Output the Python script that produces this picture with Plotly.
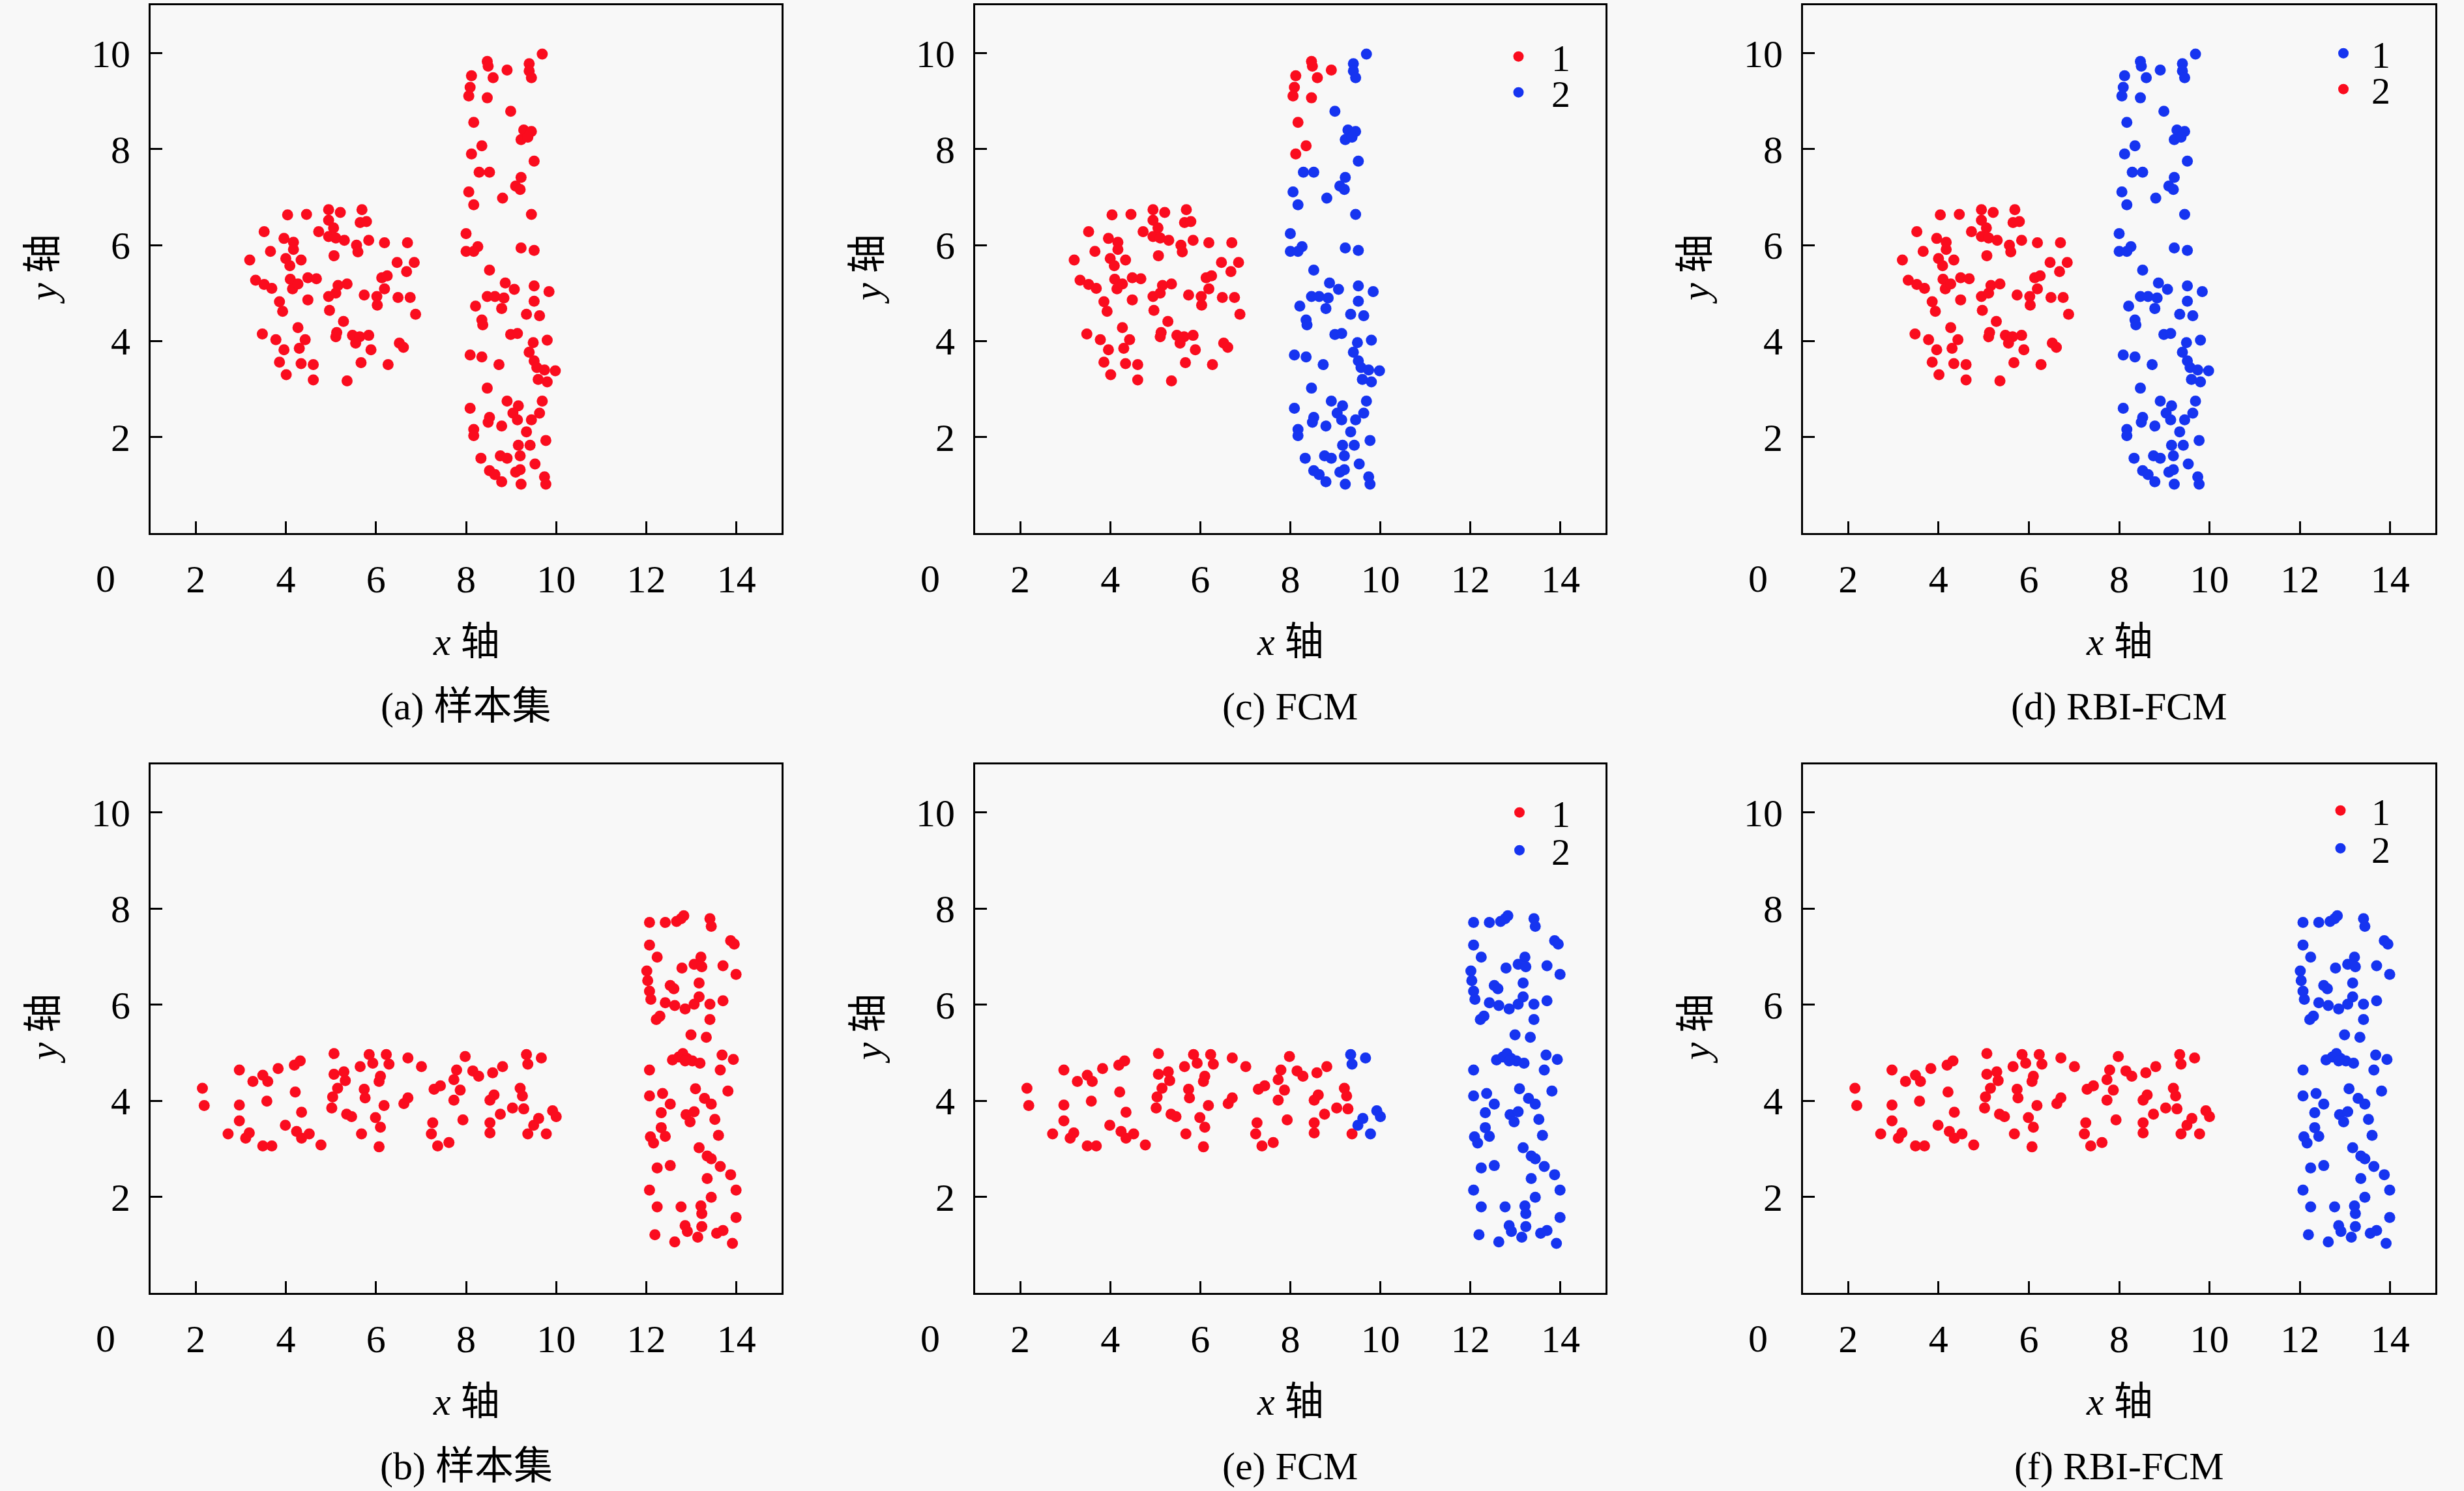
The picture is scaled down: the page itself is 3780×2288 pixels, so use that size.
import plotly.graph_objects as go

# ---- data set 1: round blob + tall column ----
blob1_x = [4.04, 4.46, 4.95, 5.21, 5.69, 4.95, 5.65, 5.79, 3.52, 4.73,
           5.06, 4.95, 5.11, 5.30, 3.96, 4.17, 4.17, 3.66, 5.07, 5.57,
           5.60, 5.84, 6.19, 6.70, 3.20, 4.00, 4.34, 4.09, 6.47, 6.85,
           6.68, 3.33, 3.52, 3.69, 4.10, 4.15, 4.27, 4.49, 4.68, 5.16,
           5.36, 4.95, 5.11, 6.13, 6.25, 6.19, 5.74, 6.02, 6.03, 6.49,
           6.76, 6.88, 4.49, 3.86, 3.93, 4.97, 5.28, 3.48, 3.78, 4.27,
           4.43, 3.96, 4.30, 3.86, 4.34, 4.61, 4.01, 4.61, 5.11, 5.13,
           5.48, 5.64, 5.84, 5.55, 5.89, 6.52, 6.61, 5.67, 6.27, 5.36]
blob1_y = [6.63, 6.64, 6.74, 6.68, 6.74, 6.52, 6.47, 6.49, 6.28, 6.28,
           6.36, 6.18, 6.15, 6.10, 6.14, 6.06, 5.91, 5.87, 5.78, 6.00,
           5.86, 6.10, 6.05, 6.05, 5.69, 5.72, 5.69, 5.57, 5.64, 5.64,
           5.45, 5.27, 5.18, 5.10, 5.29, 5.09, 5.19, 5.32, 5.30, 5.16,
           5.19, 4.93, 5.00, 5.32, 5.36, 5.09, 4.96, 4.93, 4.75, 4.91,
           4.91, 4.56, 4.86, 4.82, 4.62, 4.64, 4.41, 4.15, 4.03, 4.28,
           4.03, 3.82, 3.85, 3.56, 3.53, 3.51, 3.30, 3.19, 4.09, 4.18,
           4.12, 4.09, 4.12, 3.96, 3.82, 3.96, 3.87, 3.55, 3.51, 3.17]

# upper-left part of the column (FCM puts these with the blob)
col1_top_x = [8.47, 8.49, 8.91, 8.12, 8.60, 8.09, 8.06, 8.47, 8.17, 8.35, 8.12]
col1_top_y = [9.83, 9.73, 9.65, 9.53, 9.49, 9.29, 9.11, 9.07, 8.56, 8.07, 7.90]

col1_x = [9.69, 9.40, 9.40, 9.45, 8.99, 9.28, 9.45, 9.22, 9.37, 9.51,
          8.29, 8.52, 9.22, 9.10, 9.20, 8.06, 8.81, 8.17, 9.45, 8.00,
          8.00, 8.26, 8.17, 9.22, 9.51, 8.52, 8.87, 9.07, 9.51, 9.84,
          8.47, 8.64, 8.84, 8.21, 8.79, 9.34, 9.51, 9.63, 8.35, 8.37,
          8.99, 9.14, 9.80, 9.49, 9.40, 8.09, 8.35, 8.73, 9.51, 9.57,
          9.74, 9.98, 9.60, 9.80, 8.47, 9.69, 8.91, 9.16, 8.09, 9.04,
          9.63, 8.52, 8.49, 9.14, 9.45, 8.79, 8.17, 8.17, 9.34, 9.77,
          9.16, 9.42, 8.33, 8.76, 8.91, 9.20, 9.53, 8.52, 8.64, 8.79,
          9.10, 9.22, 9.74, 9.77, 9.20]
col1_y = [9.98, 9.78, 9.63, 9.49, 8.79, 8.40, 8.37, 8.20, 8.25, 7.75,
          7.52, 7.52, 7.41, 7.23, 7.16, 7.11, 6.98, 6.84, 6.64, 6.24,
          5.87, 5.97, 5.87, 5.94, 5.89, 5.48, 5.21, 5.08, 5.15, 5.03,
          4.93, 4.93, 4.90, 4.73, 4.68, 4.56, 4.83, 4.53, 4.44, 4.34,
          4.14, 4.16, 4.02, 3.97, 3.77, 3.71, 3.67, 3.51, 3.59, 3.45,
          3.40, 3.38, 3.20, 3.15, 3.02, 2.75, 2.75, 2.65, 2.60, 2.50,
          2.50, 2.41, 2.31, 2.36, 2.36, 2.23, 2.16, 2.03, 2.11, 1.93,
          1.83, 1.83, 1.56, 1.61, 1.56, 1.61, 1.44, 1.30, 1.22, 1.07,
          1.27, 1.02, 1.17, 1.02, 1.32]

# ---- data set 2: flat strip + column ----
strip2_x = [2.15, 2.19, 2.97, 2.97, 2.97, 2.72, 3.11, 3.19, 3.27, 3.49,
            3.60, 3.58, 3.49, 3.69, 3.83, 4.19, 4.32, 4.21, 4.35, 3.99,
            4.24, 4.35, 4.52, 4.78, 5.07, 5.07, 5.29, 5.32, 5.15, 5.04,
            5.02, 5.35, 5.46, 5.65, 5.85, 5.93, 6.23, 6.29, 6.07, 6.10,
            5.74, 5.76, 6.18, 5.68, 5.99, 6.10, 6.07, 6.71, 7.01, 6.62,
            6.71, 7.26, 7.23, 7.37, 7.62, 7.29, 7.43, 7.73, 7.87, 7.73,
            7.79, 7.98, 7.93, 8.15, 8.28, 8.59, 8.81, 8.62, 8.53, 8.53,
            8.53, 8.76, 9.03, 9.20, 9.25, 9.28, 9.37]
strip2_y = [4.26, 3.90, 4.64, 3.91, 3.58, 3.31, 3.22, 3.33, 4.40, 4.53,
            4.40, 3.99, 3.06, 3.06, 4.67, 4.74, 4.83, 4.18, 3.76, 3.49,
            3.36, 3.22, 3.31, 3.08, 4.98, 4.55, 4.60, 4.42, 4.26, 4.08,
            3.85, 3.72, 3.67, 4.71, 4.96, 4.78, 4.96, 4.76, 4.40, 4.51,
            4.24, 4.06, 3.90, 3.31, 3.65, 3.45, 3.04, 4.89, 4.71, 3.94,
            4.06, 3.54, 3.31, 3.06, 3.13, 4.24, 4.31, 4.44, 4.22, 4.01,
            4.64, 4.92, 3.60, 4.62, 4.51, 4.58, 4.71, 4.12, 4.01, 3.54,
            3.33, 3.72, 3.85, 4.26, 4.10, 3.83, 3.31]

# right end of the strip (FCM puts these with the column)
strip2_end_x = [9.34, 9.37, 9.67, 9.50, 9.61, 9.92, 10.00, 9.78]
strip2_end_y = [4.96, 4.76, 4.89, 3.49, 3.63, 3.79, 3.67, 3.31]

col2_x = [12.07, 12.42, 12.67, 12.77, 12.83, 13.41, 13.44, 13.87, 13.95, 12.07,
          12.24, 13.21, 13.06, 13.23, 12.79, 13.70, 13.99, 12.01, 12.03, 12.07,
          12.10, 12.53, 12.61, 13.17, 12.42, 12.63, 12.86, 13.06, 13.17, 13.41,
          13.70, 12.22, 12.30, 13.41, 12.99, 13.33, 12.58, 12.72, 12.81, 12.90,
          13.02, 13.19, 12.86, 12.07, 13.68, 13.93, 13.64, 12.07, 12.36, 12.33,
          12.53, 13.09, 13.29, 13.44, 13.81, 12.88, 12.97, 13.06, 13.52, 12.09,
          12.16, 12.33, 12.42, 13.60, 13.17, 13.35, 13.44, 12.24, 12.53, 13.64,
          13.87, 13.35, 13.99, 12.07, 13.44, 12.24, 12.77, 13.21, 13.23, 13.99,
          12.86, 12.91, 13.23, 12.19, 12.63, 13.14, 13.56, 13.70, 13.91]
col2_y = [7.71, 7.71, 7.73, 7.79, 7.85, 7.79, 7.63, 7.33, 7.26, 7.24,
          6.99, 6.99, 6.84, 6.79, 6.76, 6.81, 6.63, 6.70, 6.50, 6.28,
          6.11, 6.40, 6.33, 6.45, 6.04, 5.98, 5.91, 6.01, 6.16, 6.01,
          6.08, 5.69, 5.76, 5.69, 5.37, 5.32, 4.85, 4.91, 4.98, 4.88,
          4.83, 4.78, 4.83, 4.64, 4.95, 4.86, 4.64, 4.10, 4.15, 3.75,
          3.93, 4.25, 4.05, 3.93, 4.20, 3.71, 3.56, 3.77, 3.61, 3.25,
          3.12, 3.44, 3.26, 3.28, 3.02, 2.85, 2.79, 2.60, 2.65, 2.63,
          2.46, 2.38, 2.14, 2.14, 1.99, 1.79, 1.79, 1.81, 1.65, 1.57,
          1.40, 1.28, 1.38, 1.21, 1.06, 1.16, 1.24, 1.30, 1.03]

x_ticks = [2, 4, 6, 8, 10, 12, 14]
y_ticks = [2, 4, 6, 8, 10]
captions = ["(a) 样本集", "(c) FCM", "(d) RBI-FCM",
            "(b) 样本集", "(e) FCM", "(f) RBI-FCM"]

RED = "rgb(250,12,30)"
BLUE = "rgb(22,52,240)"
FONT = "Liberation Serif, Noto Sans CJK SC, serif"
W, H = 3780, 2288
UNIT = 69.1  # page pixels per x unit

# panel boxes in page pixels: (left, right) and (top, bottom)
cols_px = [(231, 1199), (1496, 2463), (2766, 3736)]
rows_px = [(8, 818), (1173, 1984)]

# legend entries, page pixels: panel -> (symbol x, text left x, row y of "1", row y of "2")
legend_px = {2: (2324, 2380, 87, 142), 3: (3597, 3638, 82, 137),
             5: (2327, 2380, 1247, 1305), 6: (3588, 3638, 1244, 1302)}


def px(v):
    return v / W


def py(v):
    return 1 - v / H


fig = go.Figure()
legends = {}


def add(panel, xs, ys, color, name=None, slot=0):
    leg = None
    if name is not None:
        leg = "legend" if not legends else f"legend{len(legends) + 1}"
        sx, tx, y1, y2 = legend_px[panel]
        legends[leg] = dict(
            x=px(sx - 45), y=py(y1 if slot == 0 else y2),
            xanchor="left", yanchor="middle",
            bgcolor="rgba(0,0,0,0)", borderwidth=0,
            itemwidth=max(30, tx - (sx - 45) - 10),
            font=dict(family=FONT, size=58))
    fig.add_trace(go.Scatter(
        x=xs, y=ys, mode="markers", name=name,
        marker=dict(color=color, size=17, line=dict(width=0)),
        xaxis="x" if panel == 1 else f"x{panel}",
        yaxis="y" if panel == 1 else f"y{panel}",
        showlegend=name is not None,
        legend=leg,
    ))


# (a) sample set 1
add(1, blob1_x + col1_top_x + col1_x, blob1_y + col1_top_y + col1_y, RED)
# (c) FCM
add(2, blob1_x + col1_top_x, blob1_y + col1_top_y, RED, "1", 0)
add(2, col1_x, col1_y, BLUE, "2", 1)
# (d) RBI-FCM
add(3, col1_top_x + col1_x, col1_top_y + col1_y, BLUE, "1", 0)
add(3, blob1_x, blob1_y, RED, "2", 1)
# (b) sample set 2
add(4, strip2_x + strip2_end_x + col2_x, strip2_y + strip2_end_y + col2_y, RED)
# (e) FCM
add(5, strip2_x, strip2_y, RED, "1", 0)
add(5, strip2_end_x + col2_x, strip2_end_y + col2_y, BLUE, "2", 1)
# (f) RBI-FCM
add(6, strip2_x + strip2_end_x, strip2_y + strip2_end_y, RED, "1", 0)
add(6, col2_x, col2_y, BLUE, "2", 1)

layout = dict(
    width=W, height=H, margin=dict(l=0, r=0, t=0, b=0),
    paper_bgcolor="#f8f8f8", plot_bgcolor="#f8f8f8",
    font=dict(family=FONT, size=60, color="black"),
    annotations=[],
)
layout.update(legends)

axis_common = dict(showgrid=False, zeroline=False, showline=True, mirror=True,
                   linecolor="black", linewidth=3, ticks="inside", ticklen=18,
                   tickwidth=3, tickcolor="black", ticklabelstandoff=16,
                   tickfont=dict(family=FONT, size=60))

for i in range(6):
    r, c = divmod(i, 3)
    n = i + 1
    xl, xr = cols_px[c]
    yt, yb = rows_px[r]
    xa = "xaxis" if n == 1 else f"xaxis{n}"
    ya = "yaxis" if n == 1 else f"yaxis{n}"
    xref = "x" if n == 1 else f"x{n}"
    yref = "y" if n == 1 else f"y{n}"
    layout[xa] = dict(axis_common, domain=[px(xl), px(xr)], range=[1, 15],
                      tickvals=x_ticks, anchor=yref)
    layout[ya] = dict(axis_common, domain=[py(yb), py(yt)], range=[0, 11],
                      tickvals=y_ticks, anchor=xref)
    cx = (xl + xr) / 2
    ann = layout["annotations"]
    # lone "0" where x = 0 would be, left of the box
    ann.append(dict(text="0", x=px(xl - UNIT), y=py(yb + 70),
                    xref="paper", yref="paper",
                    showarrow=False, xanchor="center", yanchor="middle",
                    font=dict(size=60)))
    ann.append(dict(text="<i>x</i> 轴", x=px(cx), y=py(yb + 167),
                    xref="paper", yref="paper", showarrow=False,
                    xanchor="center", yanchor="middle"))
    ann.append(dict(text="<i>y</i> 轴", x=px(xl - 165), y=py((yt + yb) / 2),
                    xref="paper", yref="paper", showarrow=False, textangle=-90,
                    xanchor="center", yanchor="middle"))
    ann.append(dict(text=captions[i], x=px(cx), y=py(yb + 266),
                    xref="paper", yref="paper", showarrow=False,
                    xanchor="center", yanchor="middle"))

fig.update_layout(**layout)
fig.write_html("out.html", config={"displayModeBar": False},
               post_script="document.body.style.margin='0';")
